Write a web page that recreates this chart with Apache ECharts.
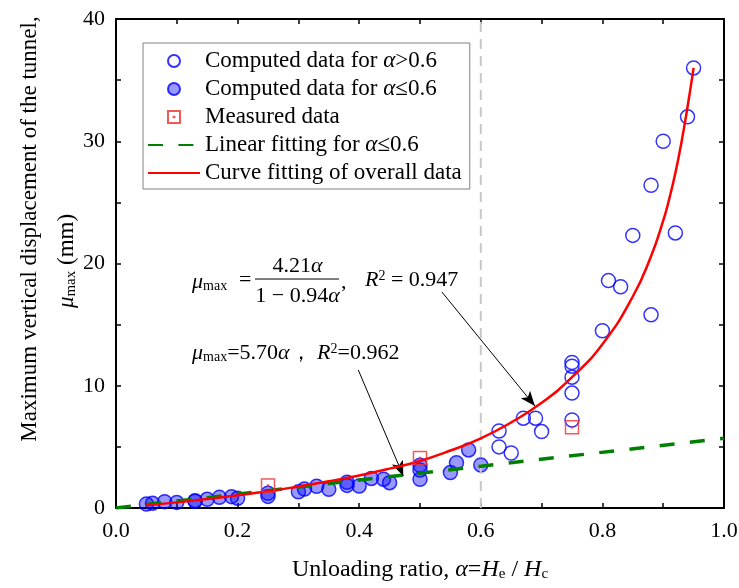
<!DOCTYPE html>
<html><head><meta charset="utf-8">
<script src="https://cdn.jsdelivr.net/npm/echarts@6/dist/echarts.min.js"></script>
<style>html,body{margin:0;padding:0;background:#fff}#c{width:739px;height:588px}</style>
</head><body><div id="c"></div>
<script>
// ---- data ----
const openX = [0.63, 0.63, 0.65, 0.67, 0.69, 0.70, 0.75, 0.75, 0.75, 0.75, 0.75, 0.80, 0.81, 0.83, 0.85, 0.88, 0.88, 0.90, 0.92, 0.94, 0.95];
const openY = [6.3, 5.0, 4.5, 7.35, 7.35, 6.25, 11.9, 11.6, 10.7, 9.4, 7.2, 14.5, 18.6, 18.1, 22.3, 26.4, 15.8, 30.0, 22.5, 32.0, 36.0];
const filledX = [0.05, 0.06, 0.08, 0.10, 0.13, 0.13, 0.15, 0.17, 0.19, 0.20, 0.25, 0.25, 0.30, 0.31, 0.33, 0.35, 0.38, 0.38, 0.40, 0.42, 0.44, 0.45, 0.50, 0.50, 0.50, 0.55, 0.56, 0.58, 0.60];
const filledY = [0.33, 0.38, 0.52, 0.46, 0.6, 0.55, 0.71, 0.87, 0.93, 0.8, 1.2, 0.95, 1.32, 1.55, 1.78, 1.53, 2.1, 1.85, 1.8, 2.42, 2.36, 2.07, 3.5, 3.1, 2.35, 2.9, 3.7, 4.75, 3.52];
const measX = [0.25, 0.50, 0.75];
const measY = [1.85, 4.1, 6.6];
const linX = [0, 1.0];
const linY = [0, 5.7];
const curveX = [0.05, 0.10, 0.15, 0.20, 0.25, 0.30, 0.35, 0.40, 0.45, 0.50, 0.55, 0.60, 0.65, 0.70, 0.75, 0.80, 0.85, 0.88, 0.90, 0.91, 0.92, 0.93, 0.94, 0.95];
const curveY = [0.23, 0.46, 0.74, 1.04, 1.37, 1.76, 2.18, 2.66, 3.22, 3.85, 4.7, 5.7, 7.0, 8.6, 10.7, 13.4, 17.3, 20.6, 23.5, 25.3, 27.4, 29.9, 32.8, 36.0];
const guideX = [0.6, 0.6];
const guideY = [0, 40];
const xTicks = [0, 0.2, 0.4, 0.6, 0.8, 1.0];
const yTicks = [0, 10, 20, 30, 40];
// annotation anchors (data coords)
const arrowFrom = [[0.536, 17.67], [0.3985, 11.29]];
const arrowTo = [[0.689, 8.34], [0.4725, 2.62]];
const formula1At = [0.125, 18.73];
const formula2At = [0.125, 12.68];

const zip = (a, b) => a.map((v, i) => [v, b[i]]);
const FONT = '"Liberation Serif", "Times New Roman", serif';
function mkRich(fs, ss) {
  return {
    n: {fontFamily: FONT, fontSize: fs, color: '#000'},
    i: {fontFamily: FONT, fontSize: fs, fontStyle: 'italic', color: '#000'},
    s: {fontFamily: FONT, fontSize: ss, color: '#000', verticalAlign: 'bottom', lineHeight: 8},
    p: {fontFamily: FONT, fontSize: ss, color: '#000', verticalAlign: 'top', lineHeight: 12}
  };
}
const rich = mkRich(22, 14);
const rich23 = mkRich(23, 15);
const rich24 = mkRich(24, 15);
const legendText = {
  open: '{n|Computed data for }{i|α}{n|>0.6}',
  filled: '{n|Computed data for }{i|α}{n|≤0.6}',
  meas: '{n|Measured data}',
  lin: '{n|Linear fitting for }{i|α}{n|≤0.6}',
  curve: '{n|Curve fitting of overall data}'
};

const axisCommon = {
  type: 'value',
  axisLine: {show: true, onZero: false, lineStyle: {color: '#000', width: 2}},
  axisTick: {show: true, inside: true, length: 5, lineStyle: {color: '#000', width: 1.5}},
  minorTick: {show: true, splitNumber: 2, length: 5, lineStyle: {color: '#000', width: 1.5}},
  splitLine: {show: false},
  axisLabel: {fontFamily: FONT, fontSize: 22, color: '#000'}
};

const chart = echarts.init(document.getElementById('c'), null, {renderer: 'canvas'});
chart.setOption({
  animation: false,
  backgroundColor: '#fff',
  grid: {left: 116, right: 15, top: 19, bottom: 80, containLabel: false, outerBoundsMode: 'none'},
  legend: {
    orient: 'vertical', left: 143, top: 43,
    data: [
      {name: 'open'}, {name: 'filled'}, {name: 'meas'},
      {name: 'lin', itemStyle: {opacity: 0}},
      {name: 'curve', itemStyle: {opacity: 0}}
    ],
    formatter: n => legendText[n],
    itemWidth: 52, itemHeight: 12, itemGap: 0,
    padding: [4, 8, 2, 4],
    borderColor: '#808080', borderWidth: 1,
    backgroundColor: '#fff',
    textStyle: {fontFamily: FONT, fontSize: 23, color: '#000', lineHeight: 28, rich: rich23},
    selectedMode: false
  },
  xAxis: [
    Object.assign({}, axisCommon, {
      min: xTicks[0], max: xTicks[xTicks.length - 1], interval: xTicks[1] - xTicks[0], position: 'bottom',
      axisLabel: Object.assign({}, axisCommon.axisLabel, {margin: 12, formatter: v => v.toFixed(1)}),
      name: '{n|Unloading ratio, }{i|α}{n|=}{i|H}{s|e}{n| / }{i|H}{s|c}',
      nameLocation: 'middle', nameGap: 50,
      nameTextStyle: {fontFamily: FONT, fontSize: 24, color: '#000', rich: rich24}
    }),
    Object.assign({}, axisCommon, {
      min: xTicks[0], max: xTicks[xTicks.length - 1], interval: xTicks[1] - xTicks[0], position: 'top',
      axisLabel: {show: false}
    })
  ],
  yAxis: [
    Object.assign({}, axisCommon, {
      min: yTicks[0], max: yTicks[yTicks.length - 1], interval: yTicks[1] - yTicks[0], position: 'left',
      axisLabel: Object.assign({}, axisCommon.axisLabel, {margin: 11})
    }),
    Object.assign({}, axisCommon, {
      min: yTicks[0], max: yTicks[yTicks.length - 1], interval: yTicks[1] - yTicks[0], position: 'right',
      axisLabel: {show: false}
    })
  ],
  series: [
    {
      name: 'filled', type: 'scatter', data: zip(filledX, filledY), symbol: 'circle', symbolSize: 14,
      itemStyle: {color: 'rgba(0,0,255,0.5)', borderColor: '#0000ff', borderWidth: 1.5}, z: 2, silent: true
    },
    {
      name: 'open', type: 'scatter', data: zip(openX, openY), symbol: 'circle', symbolSize: 14,
      itemStyle: {color: 'rgba(255,255,255,0)', borderColor: '#0000ff', borderWidth: 1.5}, z: 2, silent: true
    },
    {
      name: 'guide', type: 'line', data: zip(guideX, guideY), symbol: 'none', silent: true, z: 3,
      lineStyle: {color: '#c8c8c8', width: 2, type: [10, 7]},
      markLine: {
        silent: true, animation: false,
        symbol: ['none', 'arrow'],
        lineStyle: {color: '#000', width: 1, type: 'solid'},
        label: {show: false},
        emphasis: {disabled: true},
        data: arrowFrom.map((f, i) => [
          {coord: f, symbol: 'none'},
          {coord: arrowTo[i], symbol: 'arrow', symbolSize: [9, 15]}
        ])
      }
    },
    {
      name: 'lin', type: 'line', data: zip(linX, linY), symbol: 'none', silent: true, z: 4,
      lineStyle: {color: '#008000', width: 3.5, type: [15, 15.4]}, itemStyle: {color: '#008000'}
    },
    {
      name: 'curve', type: 'line', data: zip(curveX, curveY), symbol: 'none', smooth: true, silent: true, z: 5,
      lineStyle: {color: '#ff0000', width: 2.5}, itemStyle: {color: '#ff0000'}
    },
    {
      name: 'meas', type: 'scatter', data: zip(measX, measY),
      symbol: 'path://M0,0H10V10H0Z M4.7,4.7H5.3V5.3H4.7Z', symbolSize: 13, z: 6, silent: true,
      itemStyle: {color: 'rgba(255,255,255,0)', borderColor: '#f03030', borderWidth: 1.5}
    }
  ]
});

function T(x, y, text, extra, r) {
  return {
    type: 'text', x: x, y: y, silent: true,
    style: Object.assign({text: text, rich: r || rich, fontFamily: FONT, fontSize: 22, fill: '#000', align: 'left', verticalAlign: 'middle'}, extra || {})
  };
}
const p1 = chart.convertToPixel({xAxisIndex: 0, yAxisIndex: 0}, formula1At);
const p2 = chart.convertToPixel({xAxisIndex: 0, yAxisIndex: 0}, formula2At);
const ytitle1 = T(30, 229, '{n|Maximum vertical displacement of the tunnel,}', {align: 'center'}, rich23);
const ytitle2 = T(67, 261, '{i|μ}{s|max}{n| (mm)}', {align: 'center'}, rich23);
ytitle1.rotation = Math.PI / 2;
ytitle2.rotation = Math.PI / 2;
chart.setOption({
  graphic: [
    {type: 'group', x: p1[0], y: p1[1], children: [
      T(0, 3, '{i|μ}{s|max}'),
      T(47, 1, '{n|=}'),
      T(105.5, -13, '{n|4.21}{i|α}', {align: 'center'}),
      {type: 'line', shape: {x1: 63, y1: 0, x2: 147, y2: 0}, style: {stroke: '#000', lineWidth: 1}, silent: true},
      T(105.5, 17, '{n|1 − 0.94}{i|α}', {align: 'center'}),
      T(149, 3, '{n|,}'),
      T(173, 1, '{i|R}{p|2}{n| = 0.947}')
    ]},
    {type: 'group', x: p2[0], y: p2[1], children: [
      T(0, 0, '{i|μ}{s|max}{n|=5.70}{i|α}{n|， }{i|R}{p|2}{n|=0.962}')
    ]},
    ytitle1, ytitle2
  ]
});
</script>
</body></html>
